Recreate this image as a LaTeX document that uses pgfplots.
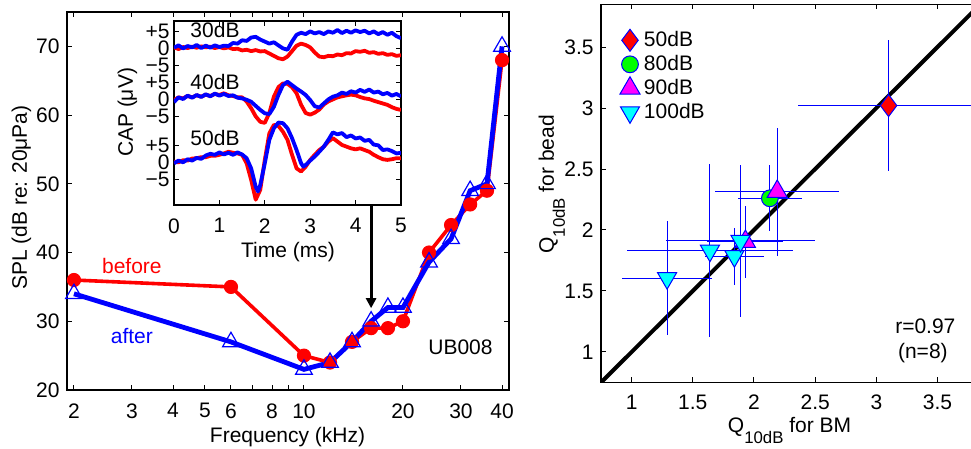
\documentclass[border=0pt]{standalone}
\usepackage{pgfplots}
\pgfplotsset{compat=1.18}
\usepackage{fontspec}
\setmainfont{Liberation Sans}
\usetikzlibrary{arrows.meta}

\definecolor{mcyan}{rgb}{0,1,1}
\definecolor{mmagenta}{rgb}{1,0,1}
\definecolor{mgreen}{rgb}{0,1,0}

% matlab-like look: inside ticks, thin box
\pgfplotsset{
  mlab/.style={
    scale only axis,
    tick align=inside,
    major tick length=2.5pt,
    minor tick length=0pt,
    every tick/.style={black, line width=0.5pt},
    axis line style={line width=0.6pt},
    /pgf/number format/assume math mode=true,
    tick label style={font=\fontsize{10.5}{12}\selectfont},
    label style={font=\fontsize{10.5}{12}\selectfont},
  },
  ebars/.style={
    error bars/.cd, x dir=both, x explicit, y dir=both, y explicit,
    error mark=none, error bar style={blue, line width=0.5pt},
  },
}

\begin{document}
\fontsize{10.5}{12.6}\selectfont
\begin{tikzpicture}[font=\fontsize{10.5}{12.6}\selectfont]

% ---- left panel: thresholds before / after
\begin{axis}[mlab,
  at={(33.5pt,29.5pt)}, anchor=south west,
  width=221pt, height=189pt,
  xmode=log, xmin=1.905, xmax=42,
  ymin=20, ymax=75,
  xtick={2,3,4,5,6,7,8,9,10,20,30,40},
  xticklabels={2,3,4,5,6,,8,,10,20,30,40},
  ytick={20,30,40,50,60,70},
  xticklabel style={yshift=-3pt},
  xlabel={Frequency (kHz)},
  ylabel={SPL (dB re: 20μPa)},
  xlabel style={at={(axis description cs:0.499,-0.140)}, anchor=base},
  ylabel style={at={(axis description cs:-0.0905,0.509)}, anchor=base},
]
\addplot[red, line width=1.8pt, mark=*, mark size=3.3pt,
  mark options={fill=red, line width=0.5pt}] coordinates {
(2,36) (6,35) (10,25) (12,24) (14,27) (16,29) (18,29) (20,30)
(24,40) (28,44) (32,47) (36,49) (40,68)
};
\addplot[blue, line width=2.4pt, mark=triangle, mark size=4.8pt,
  mark options={line width=0.6pt}] coordinates {
(2,34) (6,27) (10,23) (12,24) (14,27) (16,30) (18,32) (20,32)
(24,38.6) (28,42) (32,49) (36,50) (40,70)
};
\draw[black, line width=1.5pt, -{Triangle[length=5pt,width=5pt]}]
  (axis cs:16,46.9) -- (axis cs:16,31.9);
\node[red, anchor=base] at (axis cs:3,37) {before};
\node[blue, anchor=base] at (axis cs:3,26.8) {after};
\node[anchor=base] at (axis cs:29.9,25.2) {UB008};
\end{axis}

% ---- inset: CAP waveforms
\begin{axis}[mlab,
  at={(87pt,122pt)}, anchor=south west,
  width=113.5pt, height=92pt,
  xmin=0, xmax=5, ymin=-12.56, ymax=41.56,
  axis background/.style={fill=white},
  xtick={0,1,2,3,4,5},
  ytick={-5,0,5,13.5,18.5,23.5,28.5,33.5,38.5},
  yticklabels={−5,0,+5,−5,0,+5,−5,0,+5},
  xticklabel style={yshift=-3pt},
  yticklabel style={xshift=1.5pt},
  xlabel={Time (ms)}, ylabel={CAP (μV)},
  xlabel style={at={(axis description cs:0.502,-0.288)}, anchor=base},
  ylabel style={at={(axis description cs:-0.181,0.503)}, anchor=base},
]
% 30dB (offset 33.5)
\addplot[red, line width=1.9pt, line join=round] coordinates {
(0,33.8) (0.1,33.3) (0.2,33.9) (0.3,33.6) (0.4,34.0) (0.5,33.7) (0.6,34.1)
(0.7,33.8) (0.8,34.0) (0.9,33.6) (1.0,33.9) (1.1,33.5) (1.2,33.8) (1.3,33.3)
(1.4,33.4) (1.5,32.9) (1.6,33.1) (1.7,32.7) (1.8,33.0) (1.9,32.6) (2.0,32.7)
(2.1,32.0) (2.2,31.3) (2.3,30.6) (2.4,30.3) (2.5,31.1) (2.6,32.7) (2.7,34.3)
(2.8,34.9) (2.9,34.5) (3.0,33.8) (3.1,32.3) (3.2,31.1) (3.3,30.9) (3.4,31.3)
(3.5,31.2) (3.6,31.7) (3.7,31.5) (3.8,32.1) (3.9,32.0) (4.0,32.7) (4.1,32.5)
(4.2,32.8) (4.3,32.2) (4.4,32.4) (4.5,31.9) (4.6,32.1) (4.7,31.6) (4.8,31.8)
(4.9,31.3) (5.0,31.5)
};
\addplot[blue, line width=1.9pt, line join=round] coordinates {
(0,33.7) (0.1,34.4) (0.2,33.5) (0.3,34.2) (0.4,33.8) (0.5,34.5) (0.6,33.6)
(0.7,34.3) (0.8,33.7) (0.9,34.4) (1.0,33.9) (1.1,34.3) (1.2,34.2) (1.3,35.1)
(1.4,34.9) (1.5,35.9) (1.6,35.7) (1.7,36.7) (1.8,36.9) (1.9,36.1) (2.0,35.5)
(2.1,34.9) (2.2,35.3) (2.3,34.4) (2.4,33.5) (2.5,33.1) (2.6,35.5) (2.7,37.5)
(2.8,38.1) (2.9,37.7) (3.0,38.5) (3.1,37.9) (3.2,38.3) (3.3,37.7) (3.4,38.5)
(3.5,38.1) (3.6,38.9) (3.7,38.0) (3.8,38.7) (3.9,38.1) (4.0,38.8) (4.1,38.3)
(4.2,38.7) (4.3,37.9) (4.4,38.5) (4.5,37.7) (4.6,38.3) (4.7,37.5) (4.8,38.1)
(4.9,37.1) (5.0,36.5)
};
% 40dB (offset 18.5)
\addplot[red, line width=1.9pt, line join=round] coordinates {
(0,18.3) (0.1,19.1) (0.2,18.8) (0.3,19.5) (0.4,19.1) (0.5,19.7) (0.6,19.3)
(0.7,19.9) (0.8,19.5) (0.9,20.1) (1.0,19.8) (1.1,20.3) (1.2,19.7) (1.3,19.5)
(1.4,19.1) (1.5,19.1) (1.6,17.9) (1.7,15.9) (1.8,13.5) (1.9,11.9) (2.0,11.6)
(2.1,14.5) (2.2,19.3) (2.3,22.1) (2.4,23.2) (2.5,23.1) (2.6,22.1) (2.7,20.3)
(2.8,16.9) (2.9,14.5) (3.0,14.0) (3.1,14.6) (3.2,15.5) (3.3,17.0) (3.4,17.9)
(3.5,18.5) (3.6,19.1) (3.7,19.4) (3.8,19.7) (3.9,19.9) (4.0,19.7) (4.1,19.2)
(4.2,18.8) (4.3,18.6) (4.4,18.1) (4.5,17.7) (4.6,17.3) (4.7,16.9) (4.8,16.2)
(4.9,15.7) (5.0,15.4)
};
\addplot[blue, line width=1.9pt, line join=round] coordinates {
(0,17.7) (0.1,19.1) (0.2,18.6) (0.3,19.6) (0.4,19.0) (0.5,19.8) (0.6,19.2)
(0.7,20.0) (0.8,19.4) (0.9,20.2) (1.0,19.6) (1.1,20.1) (1.2,19.5) (1.3,19.7)
(1.4,19.0) (1.5,18.8) (1.6,18.4) (1.7,17.8) (1.8,16.6) (1.9,15.4) (2.0,14.4)
(2.1,14.2) (2.2,16.3) (2.3,19.8) (2.4,22.7) (2.5,23.7) (2.6,22.7) (2.7,21.7)
(2.8,20.8) (2.9,19.8) (3.0,18.3) (3.1,16.5) (3.2,16.1) (3.3,17.3) (3.4,18.5)
(3.5,19.3) (3.6,19.7) (3.7,20.5) (3.8,20.1) (3.9,20.9) (4.0,20.5) (4.1,21.3)
(4.2,20.7) (4.3,21.4) (4.4,20.5) (4.5,20.8) (4.6,20.0) (4.7,20.4) (4.8,19.6)
(4.9,20.1) (5.0,19.4)
};
% 50dB (offset 0)
\addplot[red, line width=1.9pt, line join=round] coordinates {
(0,0.2) (0.1,0.0) (0.2,0.6) (0.3,0.5) (0.4,1.1) (0.5,1.2) (0.6,1.5)
(0.7,1.5) (0.8,1.9) (0.9,1.9) (1.0,2.2) (1.1,2.6) (1.2,3.1) (1.3,2.8)
(1.4,2.6) (1.5,2.2) (1.6,-0.3) (1.7,-5.2) (1.8,-11.0) (1.9,-8.1) (2.0,0.7)
(2.1,8.5) (2.2,11.0) (2.3,10.7) (2.4,9.0) (2.5,6.6) (2.6,2.2) (2.7,-1.8)
(2.8,-2.7) (2.9,-1.3) (3.0,0.7) (3.1,2.2) (3.2,3.6) (3.3,4.6) (3.4,6.1)
(3.5,7.1) (3.6,6.1) (3.7,5.1) (3.8,4.6) (3.9,4.1) (4.0,3.8) (4.1,4.1)
(4.2,3.6) (4.3,3.1) (4.4,2.2) (4.5,1.5) (4.6,0.9) (4.7,0.7) (4.8,0.9)
(4.9,1.2) (5.0,1.2)
};
\addplot[blue, line width=1.9pt, line join=round] coordinates {
(0,-0.3) (0.1,0.5) (0.2,0.0) (0.3,0.9) (0.4,0.5) (0.5,1.3) (0.6,1.0)
(0.7,2.0) (0.8,2.5) (0.9,2.2) (1.0,2.9) (1.1,2.3) (1.2,2.8) (1.3,2.2)
(1.4,2.9) (1.5,2.3) (1.6,1.2) (1.7,-1.8) (1.75,-4.5) (1.8,-7.2) (1.85,-8.6)
(1.9,-6.7) (2.0,-0.3) (2.1,6.6) (2.2,10.0) (2.3,11.7) (2.4,11.5) (2.5,10.0)
(2.6,7.1) (2.7,3.6) (2.8,-0.3) (2.85,-1.3) (2.9,-0.8) (3.0,0.5) (3.1,1.7)
(3.2,3.1) (3.3,4.6) (3.4,6.6) (3.5,8.8) (3.6,8.2) (3.7,8.6) (3.8,7.4)
(3.9,7.9) (4.0,7.0) (4.1,7.3) (4.2,6.3) (4.3,6.6) (4.4,5.2) (4.5,5.0)
(4.6,3.6) (4.7,3.8) (4.8,3.3) (4.9,2.6) (5.0,2.8)
};
\node[anchor=base west] at (axis cs:0.2,36.6) {30dB};
\node[anchor=base west] at (axis cs:0.2,21.3) {40dB};
\node[anchor=base west] at (axis cs:0.2,4.8) {50dB};
\end{axis}

% ---- right panel: Q10dB bead vs BM
\begin{axis}[mlab,
  at={(300.5pt,33.25pt)}, anchor=south west,
  width=189.7pt, height=189.1pt,
  xmin=0.75, xmax=3.85, ymin=0.75, ymax=3.85,
  xtick={1,1.5,2,2.5,3,3.5}, ytick={1,1.5,2,2.5,3,3.5},
  xticklabel style={yshift=-2.5pt},
  xlabel={Q\raisebox{-5.5pt}{\fontsize{8.4}{10}\selectfont 10dB} for BM},
  ylabel={Q\raisebox{-5.5pt}{\fontsize{8.4}{10}\selectfont 10dB} for bead},
  xlabel style={at={(axis description cs:0.497,-0.132)}, anchor=base},
  ylabel style={at={(axis description cs:-0.124,0.524)}, anchor=base},
  legend cell align=left,
  legend image code/.code={\path[draw=none, fill=none] (-6pt,-6pt) rectangle (6pt,6pt);
    \draw[#1] plot coordinates {(0pt,0pt)};},
  legend style={at={(axis description cs:0.0448,0.9365)}, anchor=north west,
    draw=none, fill=none, inner sep=0pt, outer sep=0pt, row sep=0pt,
    nodes={inner sep=1pt, minimum height=12pt},
    font=\fontsize{10.5}{12}\selectfont},
]
\addplot[black, line width=2pt, forget plot] coordinates {(0.75,0.75) (3.85,3.85)};
\addplot[only marks, mark=diamond*, mark size=5.5pt,
  mark options={draw=blue, fill=red, line width=0.5pt}, ebars]
  table[x=x, y=y, x error=ex, y error=ey] {
x y ex ey
3.10 3.02 0.74 0.54
};
\addlegendentry{50dB}
\addplot[only marks, mark=*, mark size=4.2pt,
  mark options={draw=blue, fill=mgreen, line width=0.5pt}, ebars]
  table[x=x, y=y, x error=ex, y error=ey] {
x y ex ey
2.13 2.26 0.26 0.27
};
\addlegendentry{80dB}
\addplot[only marks, mark=triangle*, mark size=5.8pt,
  mark options={draw=blue, fill=mmagenta, line width=0.5pt}, ebars]
  table[x=x, y=y, x error=ex, y error=ey] {
x y ex ey
2.19 2.315 0.505 0.525
1.93 1.905 0.31 0.295
};
\addlegendentry{90dB}
\addplot[only marks, mark=triangle*, mark size=5.5pt,
  mark options={rotate=180, draw=blue, fill=mcyan, line width=0.5pt}, ebars]
  table[x=x, y=y, x error=ex, y error=ey] {
x y ex ey
1.29 1.605 0.37 0.465
1.64 1.83 0.68 0.71
1.84 1.785 0.24 0.235
1.89 1.91 0.605 0.625
};
\addlegendentry{100dB}
\node[anchor=base] at (axis cs:3.40,1.15) {r=0.97};
\node[anchor=base] at (axis cs:3.38,0.95) {(n=8)};
\end{axis}

\pgfresetboundingbox
\path[use as bounding box] (0,0) rectangle (485.5pt,224.5pt);
\end{tikzpicture}
\end{document}
